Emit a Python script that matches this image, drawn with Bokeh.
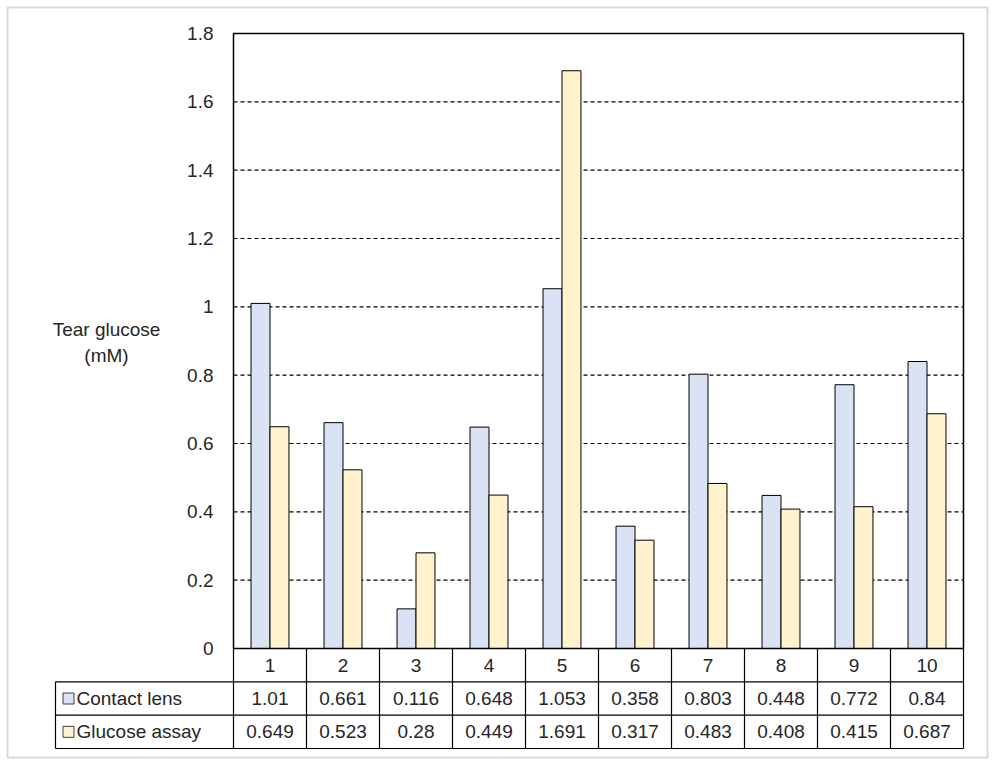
from bokeh.plotting import figure
from bokeh.models import Range1d
from bokeh.core.properties import value
from bokeh.embed import file_html
from bokeh.resources import INLINE

# ---- data ----
categories = ["1", "2", "3", "4", "5", "6", "7", "8", "9", "10"]
contact_lens = [1.01, 0.661, 0.116, 0.648, 1.053, 0.358, 0.803, 0.448, 0.772, 0.84]
glucose_assay = [0.649, 0.523, 0.28, 0.449, 1.691, 0.317, 0.483, 0.408, 0.415, 0.687]
contact_labels = ["1.01", "0.661", "0.116", "0.648", "1.053", "0.358", "0.803", "0.448", "0.772", "0.84"]
glucose_labels = ["0.649", "0.523", "0.28", "0.449", "1.691", "0.317", "0.483", "0.408", "0.415", "0.687"]
series_names = ["Contact lens", "Glucose assay"]
y_ticks = [0, 0.2, 0.4, 0.6, 0.8, 1.0, 1.2, 1.4, 1.6, 1.8]
y_tick_labels = ["0", "0.2", "0.4", "0.6", "0.8", "1", "1.2", "1.4", "1.6", "1.8"]
y_title = "Tear glucose\n(mM)"

# ---- layout (canvas pixels) ----
W, H = 995, 762
PLOT_L, PLOT_R = 233, 963
PLOT_T, PLOT_B = 33, 648
TABLE_B = 748
LEG_L = 55
BORDER = (7, 987, 7, 757)   # left, right, top, bottom
YMAX = 1.8
n = len(categories)

px_x = (PLOT_R - PLOT_L) / n
x0 = 0.5 - PLOT_L / px_x
x1 = x0 + W / px_x
px_y = (PLOT_B - PLOT_T) / YMAX
y1 = YMAX + PLOT_T / px_y
y0 = -(H - PLOT_B) / px_y
row_px = (TABLE_B - PLOT_B) / 3
t0 = -(H - TABLE_B) / row_px
t1 = 3 + PLOT_B / row_px

def xd(px):
    return x0 + px / px_x

def yd(py):
    return (PLOT_B - py) / px_y

FONT = value("Liberation Sans")
FS = "19px"
TXT = "#262626"

p = figure(width=W, height=H, output_backend="svg", toolbar_location=None,
           x_range=Range1d(x0, x1), y_range=Range1d(y0, y1),
           x_axis_location=None, y_axis_location=None, min_border=0)
p.extra_y_ranges = {"table": Range1d(t0, t1)}
p.grid.visible = False
p.outline_line_color = None
p.background_fill_color = "white"
p.border_fill_color = "white"

# outer chart border
p.quad(left=[xd(BORDER[0])], right=[xd(BORDER[1])], top=[yd(BORDER[2])], bottom=[yd(BORDER[3])],
       fill_color=None, line_color="#d9d9d9", line_width=2)

xs = list(range(1, n + 1))
bw = 0.26

# gridlines
grid_vals = [v for v in y_ticks if 0 < v < YMAX]
p.segment(x0=[0.5] * len(grid_vals), x1=[n + 0.5] * len(grid_vals), y0=grid_vals, y1=grid_vals,
          line_color="black", line_width=1.2, line_dash="4 3")

# bars
p.vbar(x=[x - bw / 2 for x in xs], top=contact_lens, width=bw, bottom=0,
       fill_color="#dae3f3", line_color="black", line_width=1)
p.vbar(x=[x + bw / 2 for x in xs], top=glucose_assay, width=bw, bottom=0,
       fill_color="#fff2cc", line_color="black", line_width=1)

# plot area border
p.quad(left=[0.5], right=[n + 0.5], bottom=[0], top=[YMAX], fill_color=None,
       line_color="black", line_width=1.5)

# y tick labels
p.text(x=[0.5] * len(y_ticks), y=y_ticks, text=y_tick_labels, x_offset=-20,
       text_align="right", text_baseline="middle", text_font=FONT, text_font_size=FS,
       text_color=TXT)

# y title
p.text(x=[xd(106)], y=[yd(342)], text=[y_title], text_align="center",
       text_baseline="middle", text_font=FONT, text_font_size=FS, text_color=TXT)

# table lines
leg_x = xd(LEG_L)
p.segment(x0=[0.5, leg_x, leg_x, leg_x], x1=[n + 0.5] * 4, y0=[3, 2, 1, 0], y1=[3, 2, 1, 0],
          line_color="black", line_width=1.2, y_range_name="table")
vx = [i + 0.5 for i in range(n + 1)]
p.segment(x0=vx + [leg_x], x1=vx + [leg_x], y0=[0] * (n + 1) + [0], y1=[3] * (n + 1) + [2],
          line_color="black", line_width=1.2, y_range_name="table")

# table text
p.text(x=xs, y=[2.5] * n, text=categories, text_align="center", text_baseline="middle",
       text_font=FONT, text_font_size=FS, text_color=TXT, y_range_name="table")
p.text(x=xs, y=[1.5] * n, text=contact_labels, text_align="center", text_baseline="middle",
       text_font=FONT, text_font_size=FS, text_color=TXT, y_range_name="table")
p.text(x=xs, y=[0.5] * n, text=glucose_labels, text_align="center", text_baseline="middle",
       text_font=FONT, text_font_size=FS, text_color=TXT, y_range_name="table")

# legend keys
p.scatter(x=[xd(68)] * 2, y=[1.5, 0.5], marker="square", size=11,
          fill_color=["#dae3f3", "#fff2cc"], line_color="#404040", line_width=1,
          y_range_name="table")
p.text(x=[xd(76)] * 2, y=[1.5, 0.5], text=series_names, text_align="left",
       text_baseline="middle", text_font=FONT, text_font_size=FS, text_color=TXT,
       y_range_name="table")

open("out.html", "w").write(file_html(p, INLINE))
